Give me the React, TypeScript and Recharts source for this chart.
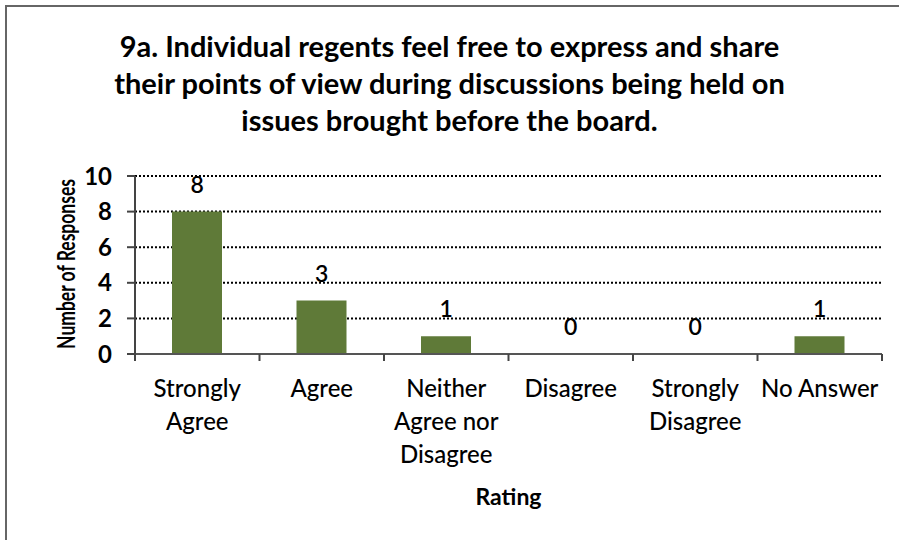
import { ComposedChart, Bar, Line, XAxis, YAxis, CartesianGrid, LabelList } from 'recharts';

const categories = ['Strongly Agree', 'Agree', 'Neither Agree nor Disagree', 'Disagree', 'Strongly Disagree', 'No Answer'];
const tickLines = [['Strongly', 'Agree'], ['Agree'], ['Neither', 'Agree nor', 'Disagree'], ['Disagree'], ['Strongly', 'Disagree'], ['No Answer']];
const responses = [8, 3, 1, 0, 0, 1];
const yTicks = [0, 2, 4, 6, 8, 10];
const titleLines = [
  '9a. Individual regents feel free to express and share',
  'their points of view during discussions being held on',
  'issues brought before the board.',
];

const FONT = 'Lato, "Open Sans", sans-serif';
const W = 899;
const H = 540;
const PLOT_LEFT = 135;
const PLOT_RIGHT = 882;
const BAND = (PLOT_RIGHT - PLOT_LEFT) / categories.length;

const data = categories.map((name, i) => ({ name, value: responses[i] }));

const CategoryTick = (props: any) => {
  const { x, y, payload, index } = props;
  const i = payload.index ?? index;
  const lines = tickLines[i] || [payload.value];
  const isLast = i === categories.length - 1;
  return (
    <g>
      <line x1={x - BAND / 2} x2={x - BAND / 2} y1={y - 8} y2={y - 1} stroke="#444" strokeWidth={2} />
      {isLast && <line x1={x + BAND / 2} x2={x + BAND / 2} y1={y - 8} y2={y - 1} stroke="#444" strokeWidth={2} />}
      <text x={x} y={y + 35} textAnchor="middle" fontFamily={FONT} fontSize={24} fontWeight={500} fill="#000">
        {lines.map((l: string, k: number) => (
          <tspan key={k} x={x} dy={k === 0 ? 0 : 33}>
            {l}
          </tspan>
        ))}
      </text>
    </g>
  );
};

const App = () => {
  return (
    <div style={{ position: 'absolute', left: 0, top: 0, width: W, height: H, background: '#fff', overflow: 'hidden' }}>
      <div
        style={{
          position: 'absolute',
          left: 5,
          top: 5,
          width: W,
          height: H,
          borderLeft: '2px solid #666',
          borderTop: '2px solid #666',
          boxSizing: 'border-box',
        }}
      />
      <div
        style={{
          position: 'absolute',
          left: 0,
          top: 27,
          width: W,
          textAlign: 'center',
          fontFamily: FONT,
          fontWeight: 700,
          fontSize: 29,
          lineHeight: '37px',
          color: '#000',
        }}
      >
        {titleLines.map((t) => (
          <div key={t}>{t}</div>
        ))}
      </div>
      <div
        style={{
          position: 'absolute',
          left: 65,
          top: 264,
          transform: 'translate(-50%, -50%) rotate(-90deg) scaleX(0.7)',
          whiteSpace: 'nowrap',
          fontFamily: FONT,
          fontWeight: 700,
          fontSize: 25,
        }}
      >
        Number of Responses
      </div>
      <div
        style={{
          position: 'absolute',
          left: PLOT_LEFT,
          width: PLOT_RIGHT - PLOT_LEFT,
          top: 482,
          textAlign: 'center',
          fontFamily: FONT,
          fontWeight: 700,
          fontSize: 23,
        }}
      >
        Rating
      </div>
      <ComposedChart
        width={W}
        height={H}
        data={data}
        margin={{ top: 176, right: W - PLOT_RIGHT, bottom: 0, left: 0 }}
        style={{ position: 'absolute', left: 0, top: 0 }}
      >
        <CartesianGrid horizontal vertical={false} stroke="#000" strokeDasharray="2 2" strokeWidth={2} />
        <XAxis
          dataKey="name"
          height={186}
          axisLine={{ stroke: '#555', strokeWidth: 2 }}
          tickLine={false}
          tick={<CategoryTick />}
          interval={0}
        />
        <YAxis
          width={PLOT_LEFT}
          domain={[0, 10]}
          ticks={yTicks}
          axisLine={{ stroke: '#444', strokeWidth: 2 }}
          tickLine={{ stroke: '#444', strokeWidth: 2 }}
          tickSize={8}
          tickMargin={15}
          tick={{ fontFamily: FONT, fontSize: 24, fontWeight: 700, fill: '#000' }}
        />
        <Bar dataKey="value" fill="#5f7a38" barSize={50} isAnimationActive={false} />
        <Line
          dataKey="value"
          stroke="none"
          dot={false}
          activeDot={false}
          legendType="none"
          isAnimationActive={false}
        >
          <LabelList
            dataKey="value"
            position="top"
            offset={19}
            style={{ fontFamily: FONT, fontSize: 23, fontWeight: 600, fill: '#000' }}
          />
        </Line>
      </ComposedChart>
    </div>
  );
};

export default App;
